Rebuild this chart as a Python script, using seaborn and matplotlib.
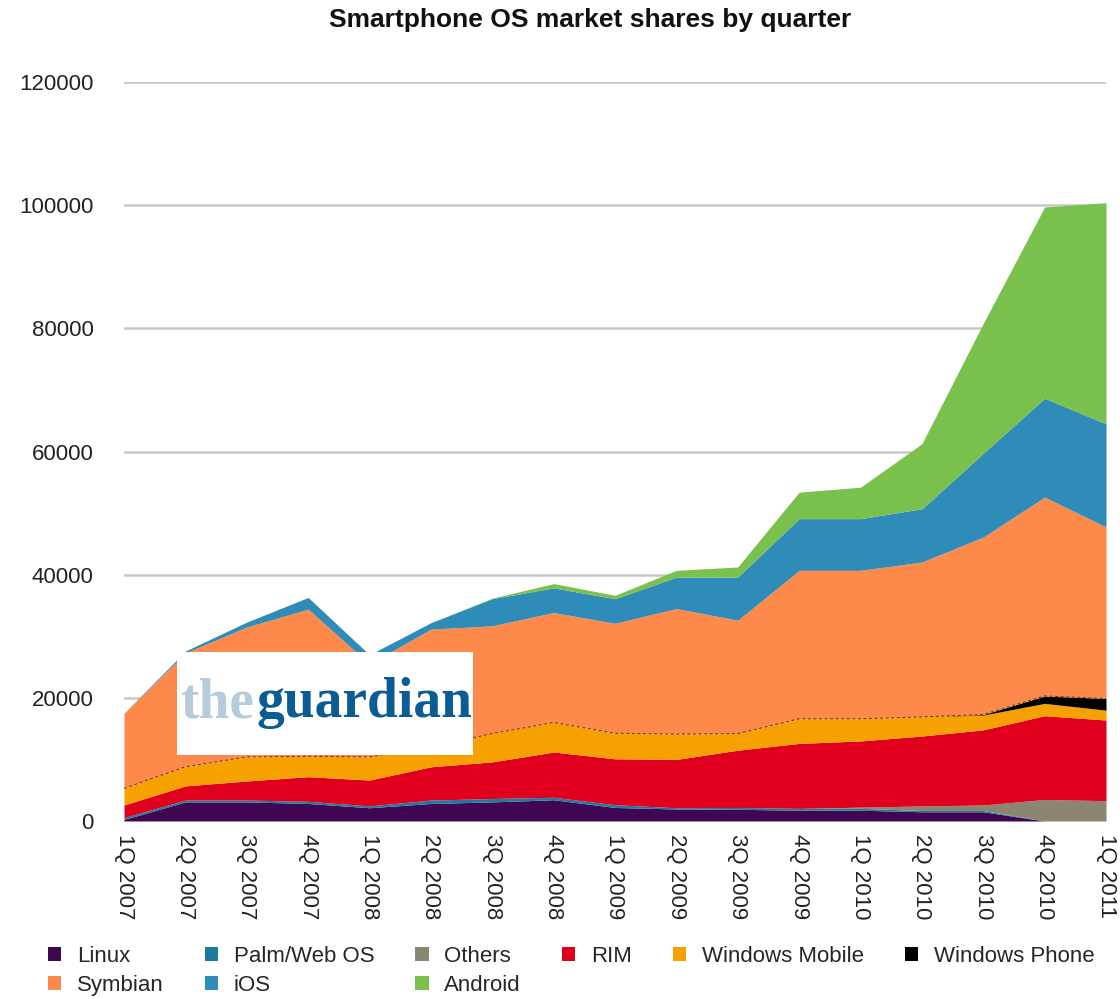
import matplotlib
matplotlib.use("Agg")
import matplotlib.pyplot as plt
import seaborn as sns
import numpy as np
from matplotlib.patches import Patch, Rectangle

quarters = ["1Q 2007", "2Q 2007", "3Q 2007", "4Q 2007", "1Q 2008", "2Q 2008",
            "3Q 2008", "4Q 2008", "1Q 2009", "2Q 2009", "3Q 2009", "4Q 2009",
            "1Q 2010", "2Q 2010", "3Q 2010", "4Q 2010", "1Q 2011"]

linux = [250, 3100, 3100, 2850, 2150, 2850, 3100, 3450, 2200, 1950, 1900, 1750, 1750, 1500, 1500, 0, 0]
palm = [300, 300, 300, 350, 300, 550, 550, 400, 450, 200, 300, 300, 300, 200, 200, 0, 0]
others = [0, 0, 0, 0, 0, 0, 0, 0, 0, 0, 0, 0, 200, 750, 900, 3500, 3300]
rim = [2050, 2300, 3100, 4000, 4200, 5400, 5950, 7350, 7450, 7850, 9300, 10550, 10750, 11350, 12200, 13600, 13100]
win_mobile = [2700, 3100, 3900, 3300, 3750, 3200, 4600, 4800, 4150, 4100, 2700, 4000, 3600, 3100, 2400, 2000, 1600]
win_phone = [0, 0, 0, 0, 0, 0, 0, 0, 0, 0, 0, 0, 0, 0, 100, 1200, 1900]
symbian = [12200, 18500, 21100, 23900, 15100, 19150, 17500, 17850, 17850, 20400, 18400, 24100, 24100, 25150, 28800, 32300, 27850]
ios = [0, 300, 800, 1900, 1500, 1050, 4400, 4000, 4000, 5100, 7000, 8400, 8400, 8650, 13600, 16050, 16750]
android = [0, 0, 0, 0, 0, 0, 100, 700, 550, 1100, 1650, 4300, 5100, 10550, 21100, 31050, 35900]

series_names = ["Linux", "Palm/Web OS", "Others", "RIM", "Windows Mobile",
                "Windows Phone", "Symbian", "iOS", "Android"]
series_colors = ["#3f0651", "#1b7ba0", "#8a8672", "#e0001e", "#f7a100",
                 "#000000", "#fd8a4b", "#2f8bb7", "#79c04c"]
yticks = [0, 20000, 40000, 60000, 80000, 100000, 120000]

sns.set_style("white")
plt.rcParams['font.family'] = ['Liberation Sans', 'DejaVu Sans']

fig = plt.figure(figsize=(11.2, 9.99), dpi=100)
ax = fig.add_axes([124/1120, 1-821/999, (1106-124)/1120, (821-82)/999])

x = np.arange(len(quarters))
data = [linux, palm, others, rim, win_mobile, win_phone, symbian, ios, android]
palette = sns.color_palette(series_colors)

for yv in yticks:
    ax.axhline(yv, color="#c8c8c8", lw=1.8, zorder=0)

cum = np.zeros(len(quarters))
for name, vals, col in zip(series_names, data, palette):
    top = cum + np.array(vals, dtype=float)
    ax.fill_between(x, cum, top, color=col, lw=0, zorder=2)
    if name == "Windows Phone":
        ax.plot(x, top, color="#6a4020", lw=0.8, ls=(0, (2.5, 2.5)), zorder=3)
    cum = top

ax.set_xlim(0, len(quarters) - 1)
ax.set_ylim(0, 120000)
ax.set_yticks(yticks)
ax.set_yticklabels([str(v) for v in yticks], fontsize=16)
ax.set_xticks(x)
ax.set_xticklabels(quarters, rotation=-90, fontsize=16, ha="center", va="top")
ax.tick_params(axis="y", length=0, pad=22, colors="#222222")
ax.tick_params(axis="x", length=0, pad=9, colors="#222222")
for s in ax.spines.values():
    s.set_visible(False)

fig.text(590/1120, 1-20/999, "Smartphone OS market shares by quarter",
         ha="center", va="center", fontsize=19, fontweight="bold", color="#111111")

# watermark box
fig.patches.append(Rectangle((177/1120, 1-755/999), (473-177)/1120, (755-652)/999,
                             transform=fig.transFigure, facecolor="white",
                             edgecolor="none", zorder=5))
fig.text(180/1120, 1-717/999, "the", ha="left", va="baseline", fontsize=40,
         fontweight="bold", family="Liberation Serif", color="#b6cbdc", zorder=6)
fig.text(472/1120, 1-717/999, "guardian", ha="right", va="baseline", fontsize=40,
         fontweight="bold", family="Liberation Serif", color="#0a5c93", zorder=6)

handles = [Patch(facecolor=c, edgecolor="none") for c in palette]
order = [0, 6, 1, 7, 2, 8, 3, 4, 5]
fig.legend([handles[i] for i in order], [series_names[i] for i in order],
           ncol=6, loc="upper left", bbox_to_anchor=(48/1120, 1-946/999),
           frameon=False, fontsize=16, handlelength=0.6, handleheight=0.6,
           handletextpad=0.7, columnspacing=1.85, labelspacing=0.35,
           borderaxespad=0, borderpad=0)

fig.savefig("out.png", dpi=100, facecolor="white")
